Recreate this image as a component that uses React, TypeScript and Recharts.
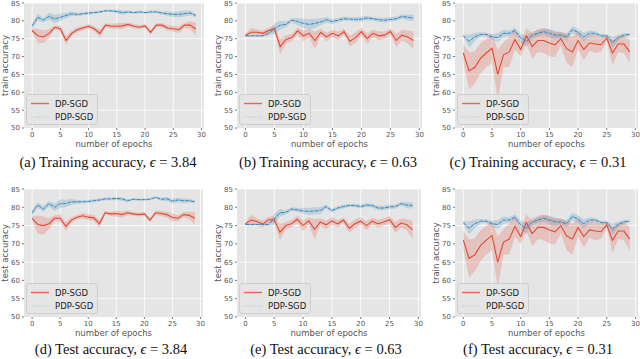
import React from "react";
import { Area, CartesianGrid, ComposedChart, Line, XAxis, YAxis } from "recharts";

const epochs = [0, 1, 2, 3, 4, 5, 6, 7, 8, 9, 10, 11, 12, 13, 14, 15, 16, 17, 18, 19, 20, 21, 22, 23, 24, 25, 26, 27, 28, 29];
const xTicks = [0, 5, 10, 15, 20, 25, 30];
const yTicks = [50, 55, 60, 65, 70, 75, 80, 85];

// (a) training accuracy, eps = 3.84
const trainHighDp = [77.3, 75.8, 75.5, 76.5, 78.2, 77.8, 74.5, 76.5, 77.5, 78, 78.5, 77.8, 76.5, 78.8, 78.5, 78.5, 78.6, 79, 78.5, 78.2, 78.6, 76.8, 78.8, 78.8, 78, 77.8, 77.5, 78.8, 78.8, 77.7];
const trainHighDpSpread = [0.6, 2, 1.8, 1.2, 0.6, 0.8, 1.2, 0.8, 0.7, 0.6, 0.6, 0.7, 1, 0.5, 0.7, 0.8, 0.8, 0.5, 0.6, 0.6, 0.5, 0.6, 0.5, 0.6, 0.7, 0.8, 0.9, 0.7, 1, 1.8];
const trainHighPdp = [78.6, 81, 80.2, 81.3, 80.5, 81, 81.5, 82, 81.8, 82, 82.2, 82.3, 82.5, 82.8, 82.8, 82.6, 82.3, 82.5, 82.3, 82.5, 82.3, 82.5, 82.5, 82.2, 82, 81.8, 81.8, 82, 82.2, 81.5];
const trainHighPdpSpread = [0.8, 1, 0.6, 1, 1.2, 1, 0.8, 0.6, 0.5, 0.4, 0.4, 0.4, 0.3, 0.3, 0.3, 0.5, 0.6, 0.4, 0.4, 0.3, 0.3, 0.4, 0.3, 0.5, 0.6, 0.7, 0.8, 0.8, 0.7, 0.5];

// (b) training accuracy, eps = 0.63
const trainMidDp = [76, 76.8, 76.8, 76.5, 77.3, 77.8, 72.8, 74.8, 75.3, 77.2, 75.8, 76.5, 74.5, 76.8, 75.5, 76.5, 75.8, 77, 74.3, 75.3, 77, 75, 76.5, 75.8, 76, 77, 74.5, 76, 75.5, 74.5];
const trainMidDpSpread = [0.3, 1.2, 0.8, 0.8, 0.8, 0.8, 2.2, 1.2, 1, 1, 1.5, 1.2, 2.5, 1, 1.2, 1, 1.2, 0.8, 1.5, 1.5, 1, 1.5, 1, 1.2, 1, 0.8, 1.8, 1.5, 1.8, 2.5];
const trainMidPdp = [75.8, 75.8, 75.8, 75.8, 76.5, 77.8, 78.8, 79, 80.2, 79.8, 79.3, 79, 79.3, 79.7, 80.3, 79.8, 80.2, 80.6, 80.5, 80.4, 80.5, 80.8, 80.6, 80.3, 80.2, 80.4, 80.6, 81.2, 81, 80.8];
const trainMidPdpSpread = [0.2, 0.2, 0.2, 0.2, 0.5, 1.5, 1.2, 0.8, 0.5, 1, 1.3, 1.5, 1.3, 1, 0.8, 0.7, 0.6, 0.6, 0.5, 0.6, 0.7, 0.6, 0.5, 0.6, 0.7, 0.6, 0.6, 0.6, 0.8, 0.9];

// (c) and (f), eps = 0.31
const lowDp = [71, 66, 67, 69.5, 71, 72.3, 65, 70.5, 71.3, 74.8, 72, 75.8, 72.8, 74.5, 74.5, 73.8, 73.3, 75, 72.2, 71.3, 74.5, 72, 73.8, 73.5, 73.3, 75.2, 71, 73.5, 73.5, 71.3];
const lowDpSpread = [2.5, 5.2, 4.5, 4.2, 4, 4, 7, 3.5, 4.2, 2.8, 2, 2.2, 3.5, 3.2, 3.5, 3.7, 3.5, 2, 4, 4.2, 2.5, 3, 2.2, 2.5, 2, 1, 3.5, 2.2, 2.5, 3.2];
const lowPdp = [75.8, 74.3, 75.5, 76.2, 76.2, 75.5, 75.3, 76.5, 76.5, 77.3, 75.2, 74.2, 76, 76.5, 77, 76.5, 76, 76, 75.5, 77.5, 76.8, 75.5, 76.5, 76.5, 75.8, 75.8, 74, 75.3, 76, 76.2];
const lowPdpSpread = [0.4, 1.8, 1.2, 0.6, 0.5, 0.8, 1.2, 1, 0.8, 0.8, 1.2, 1.5, 1, 0.8, 0.8, 1.2, 1.2, 0.8, 1, 1, 1, 1.2, 0.8, 0.6, 0.5, 0.5, 1.5, 0.8, 0.6, 0.4];

// (d) test accuracy, eps = 3.84
const testHighDp = [77, 75.3, 75, 75.5, 77, 77, 74.8, 76.5, 77.3, 77.7, 77.3, 77.1, 75.5, 78.5, 78.2, 78.3, 78, 78.5, 78.2, 78, 78.2, 76.5, 78.5, 78.3, 78, 77.2, 77, 78, 77.8, 77];
const testHighDpSpread = [0.5, 2.5, 2.5, 1.5, 0.8, 1, 1.2, 0.8, 0.6, 0.8, 0.8, 0.8, 1, 0.5, 0.6, 0.8, 0.8, 0.6, 0.5, 0.5, 0.5, 0.5, 0.6, 0.7, 0.8, 1, 0.8, 0.7, 1, 1.8];
const testHighPdp = [78.5, 80.6, 79.5, 81, 80, 81, 81, 81.5, 81.5, 81.5, 81.6, 81.8, 82, 82.3, 82.3, 82.4, 82.3, 81.8, 82.2, 82.1, 82.1, 82.2, 82.7, 82.2, 82.3, 81.7, 82, 81.8, 81.8, 81.5];
const testHighPdpSpread = [0.8, 0.8, 0.8, 0.8, 1, 1.2, 1, 0.8, 0.5, 0.4, 0.4, 0.4, 0.4, 0.4, 0.4, 0.4, 0.5, 0.4, 0.3, 0.3, 0.3, 0.3, 0.3, 0.4, 0.6, 0.6, 0.6, 0.6, 0.5, 0.4];

// (e) test accuracy, eps = 0.63
const testMidDp = [75.5, 76.5, 76.1, 75.4, 76.6, 76.6, 73.2, 75, 75.5, 76.7, 75, 76.3, 74, 76, 75.2, 76.3, 75.5, 76.5, 74.3, 75.5, 76.2, 75, 76.2, 75.5, 76, 76.6, 74.5, 75.7, 75.2, 73.8];
const testMidDpSpread = [0.3, 1.5, 0.8, 1, 0.8, 0.8, 2.2, 1, 1, 1, 1.5, 1, 2.8, 1, 1.2, 1, 1, 0.8, 1.2, 1.2, 1, 1.2, 1, 1, 1, 1, 1.5, 1.2, 1.5, 2.5];
const testMidPdp = [75.3, 75.3, 75.3, 75.3, 75.3, 76.8, 78.5, 78.6, 79.5, 79.3, 79, 78.9, 79, 79.1, 80.2, 79.1, 79.8, 80.2, 80.5, 80.5, 80.2, 80.6, 80.5, 79.8, 79.8, 80.1, 80.2, 81, 80.6, 80.5];
const testMidPdpSpread = [0.2, 0.2, 0.2, 0.2, 0.5, 1.5, 1, 0.6, 0.5, 0.6, 0.8, 1, 1, 1, 0.5, 0.5, 0.5, 0.5, 0.4, 0.5, 0.5, 0.5, 0.5, 0.6, 0.6, 0.6, 0.5, 0.6, 0.8, 0.9];

const RED = "#E24A33";
const BLUE = "#348ABD";
const tickStyle = { fontSize: 7, fill: "#555", fontFamily: "DejaVu Sans" };

function buildRows(dp: number[], dpSpread: number[], pdp: number[], pdpSpread: number[]) {
  return epochs.map((epoch, i) => ({
    epoch,
    dp: dp[i],
    dpBand: [dp[i] - dpSpread[i], dp[i] + dpSpread[i]],
    pdp: pdp[i],
    pdpBand: [pdp[i] - pdpSpread[i], pdp[i] + pdpSpread[i]],
  }));
}

// legend box drawn over the plot, bottom-left corner like matplotlib's "best"
function LegendBox({ left, top }: { left: number; top: number }) {
  return (
    <svg width={72} height={31} style={{ position: "absolute", left, top }}>
      <rect x={0.5} y={0.5} width={71} height={30} rx={2.5} fill="#E5E5E5" fillOpacity={0.85} stroke="#cfcfcf" />
      <line x1={5} x2={23} y1={9.5} y2={9.5} stroke={RED} strokeWidth={1.4} strokeOpacity={0.8} />
      <line x1={5} x2={23} y1={23} y2={23} stroke="#bcd0df" strokeWidth={1} strokeDasharray="2 1.5" />
      <text x={29} y={12.5} fontSize={8.5} fill="#222" fontFamily="DejaVu Sans">DP-SGD</text>
      <text x={29} y={26} fontSize={8.5} fill="#222" fontFamily="DejaVu Sans">PDP-SGD</text>
    </svg>
  );
}

type PanelProps = {
  plotLeft: number;
  plotRight: number;
  plotTop: number;
  plotBottom: number;
  yLabel: string;
  caption: string;
  eps: string;
  captionTop: number;
  captionCenter: number;
  rows: ReturnType<typeof buildRows>;
};

function Panel({ plotLeft, plotRight, plotTop, plotBottom, yLabel, caption, eps, captionTop, captionCenter, rows }: PanelProps) {
  const axisW = 26;
  const left = plotLeft - axisW;
  const top = plotTop - 3;
  const width = plotRight - left + 3;
  const height = plotBottom - top + 24;
  return (
    <>
      <div style={{ position: "absolute", left, top }}>
        <ComposedChart width={width} height={height} data={rows} margin={{ top: 3, right: 3, left: 0, bottom: 6 }}>
          <CartesianGrid fill="#E5E5E5" stroke="#ffffff" strokeWidth={0.8} horizontalValues={yTicks} verticalValues={xTicks} />
          <XAxis
            dataKey="epoch"
            type="number"
            domain={[-1.45, 30.45]}
            ticks={xTicks}
            axisLine={false}
            tickSize={2}
            tickLine={{ stroke: "#777" }}
            tick={tickStyle}
            height={18}
            label={{ value: "number of epochs", position: "insideBottom", offset: -1, style: { fontSize: 8.5, fill: "#555", fontFamily: "DejaVu Sans" } }}
          />
          <YAxis
            type="number"
            domain={[50, 85]}
            ticks={yTicks}
            axisLine={false}
            tickSize={2}
            tickLine={{ stroke: "#777" }}
            tick={tickStyle}
            width={axisW}
            label={{ value: yLabel, angle: -90, position: "insideLeft", offset: 7, style: { fontSize: 8.5, fill: "#555", fontFamily: "DejaVu Sans", textAnchor: "middle" } }}
          />
          <Area dataKey="pdpBand" stroke="none" fill={BLUE} fillOpacity={0.22} isAnimationActive={false} />
          <Area dataKey="dpBand" stroke="none" fill={RED} fillOpacity={0.22} isAnimationActive={false} />
          <Line dataKey="dp" stroke={RED} strokeWidth={1.1} dot={false} isAnimationActive={false} />
          <Line dataKey="pdp" stroke={BLUE} strokeWidth={1} strokeDasharray="4 1" dot={false} isAnimationActive={false} />
        </ComposedChart>
      </div>
      <LegendBox left={plotLeft + 2} top={plotBottom - 34} />
      <div
        style={{
          position: "absolute",
          left: captionCenter - 110,
          width: 220,
          top: captionTop,
          textAlign: "center",
          fontFamily: "Liberation Serif",
          fontSize: 14.5,
          lineHeight: "15px",
          color: "#111",
          whiteSpace: "nowrap",
        }}
      >
        {caption}, <i>ϵ</i> = {eps}
      </div>
    </>
  );
}

export default function App() {
  return (
    <div style={{ position: "absolute", left: 0, top: 0, width: 640, height: 359, background: "#fff", overflow: "hidden" }}>
      <Panel plotLeft={24} plotRight={204} plotTop={3} plotBottom={128} yLabel="train accuracy" caption="(a) Training accuracy" eps="3.84" captionTop={155} captionCenter={108}
        rows={buildRows(trainHighDp, trainHighDpSpread, trainHighPdp, trainHighPdpSpread)} />
      <Panel plotLeft={237} plotRight={422} plotTop={3} plotBottom={128} yLabel="train accuracy" caption="(b) Training accuracy" eps="0.63" captionTop={155} captionCenter={328}
        rows={buildRows(trainMidDp, trainMidDpSpread, trainMidPdp, trainMidPdpSpread)} />
      <Panel plotLeft={455} plotRight={638} plotTop={3} plotBottom={128} yLabel="train accuracy" caption="(c) Training accuracy" eps="0.31" captionTop={155} captionCenter={538}
        rows={buildRows(lowDp, lowDpSpread, lowPdp, lowPdpSpread)} />
      <Panel plotLeft={24} plotRight={203} plotTop={189} plotBottom={317} yLabel="test accuracy" caption="(d) Test accuracy" eps="3.84" captionTop={342} captionCenter={111}
        rows={buildRows(testHighDp, testHighDpSpread, testHighPdp, testHighPdpSpread)} />
      <Panel plotLeft={237} plotRight={421} plotTop={189} plotBottom={317} yLabel="test accuracy" caption="(e) Test accuracy" eps="0.63" captionTop={342} captionCenter={326}
        rows={buildRows(testMidDp, testMidDpSpread, testMidPdp, testMidPdpSpread)} />
      <Panel plotLeft={455} plotRight={638} plotTop={189} plotBottom={317} yLabel="train accuracy" caption="(f) Test accuracy" eps="0.31" captionTop={342} captionCenter={538}
        rows={buildRows(lowDp, lowDpSpread, lowPdp, lowPdpSpread)} />
    </div>
  );
}
